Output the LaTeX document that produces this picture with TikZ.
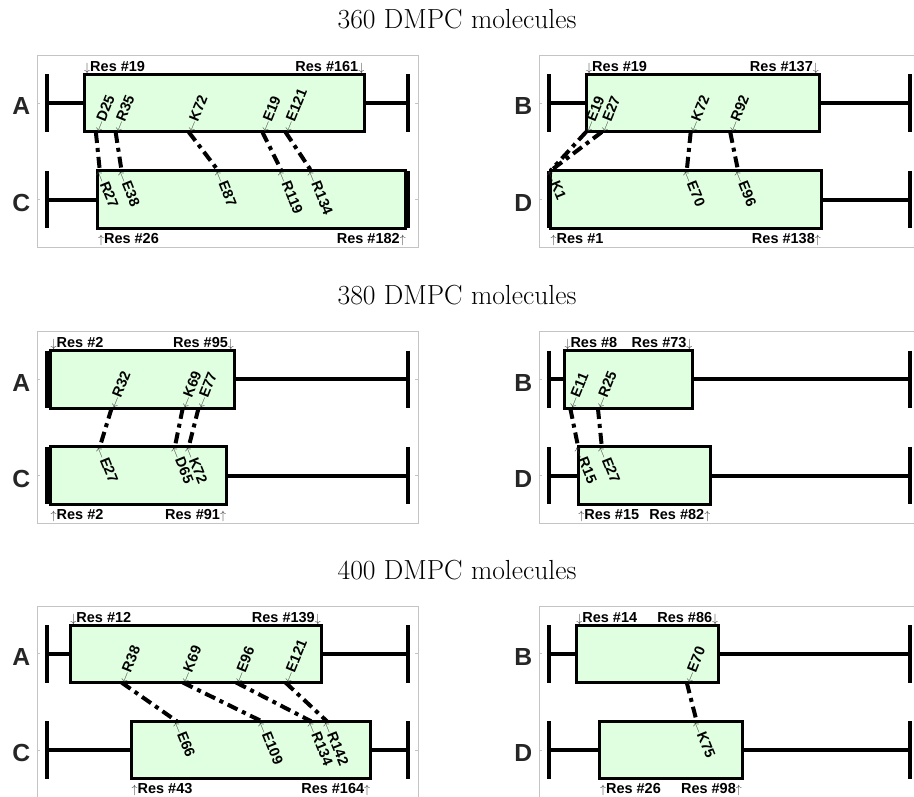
\documentclass[tikz,border=0pt]{standalone}
\usepackage{fontspec}
\setsansfont{Liberation Sans}
\definecolor{boxgreen}{HTML}{E0FFE0}
\definecolor{framegray}{HTML}{C4C4C4}
\definecolor{letgray}{HTML}{262626}
\definecolor{arrowgray}{HTML}{383838}
% thin arrows used inside the labels
\newcommand{\arwd}{{\fontsize{13}{13}\selectfont\textcolor{arrowgray}{$\downarrow$}}}
\newcommand{\arwu}{{\fontsize{13}{13}\selectfont\textcolor{arrowgray}{$\uparrow$}}}
\newcommand{\arwl}{{\fontsize{12}{12}\selectfont\textcolor{arrowgray}{$\leftarrow$}}}

\begin{document}
\begin{tikzpicture}[
  x=1pt,y=-1pt,
  seg/.style={draw=black,fill=boxgreen,line width=3pt},
  whisk/.style={line width=4pt},
  link/.style={line width=4pt,dash pattern=on 11pt off 5pt on 4pt off 5pt},
  panelframe/.style={draw=framegray,line width=0.8pt},
  tickmark/.style={draw=framegray,line width=0.8pt},
  chainlab/.style={font=\sffamily\bfseries\fontsize{24.7}{28}\selectfont,
    text=letgray,anchor=base,inner sep=0pt},
  reslab/.style={font=\sffamily\bfseries\fontsize{14.5}{17}\selectfont,inner sep=0pt},
  lblup/.style={reslab,rotate=68,anchor=west},
  lbldown/.style={reslab,rotate=-68,anchor=west},
  ttl/.style={font=\fontsize{27.6}{32}\selectfont,anchor=base,inner sep=0pt}]
  \useasboundingbox (0,0) rectangle (914,797);
  \clip (0,0) rectangle (914,797);

  \node[ttl] (t360) at (457,28.5) {360 DMPC molecules};
  \node[ttl] (t380) at (457,304.5) {380 DMPC molecules};
  \node[ttl] (t400) at (457,579) {400 DMPC molecules};

  % ---- 360, chains A/C
  \begin{scope}[shift={(46.5pt,0pt)},x=1.975pt]
    \draw[panelframe] (-4.66,55.7) rectangle (188.25,247.3);
    \draw[tickmark] (-4.66,103.25) -- ++(1.5,0) (-4.66,199.55) -- ++(1.5,0)
      (188.25,103.25) -- ++(-1.5,0) (188.25,199.55) -- ++(-1.5,0);
    \node[chainlab] (p1nA) at (-12.8,115) {A};
    \node[chainlab] (p1nC) at (-12.8,211.3) {C};
    \draw[whisk] (0.5,74.5) -- (0.5,132) (0.5,103.25) -- (19,103.25)
      (161,103.25) -- (183.2,103.25) (183.2,74.5) -- (183.2,132);
    \draw[seg] (19,74.5) rectangle (161,132);
    \draw[whisk] (0.5,170.8) -- (0.5,228.3) (0.5,199.55) -- (26,199.55)
      (182,199.55) -- (183.2,199.55) (183.2,170.8) -- (183.2,228.3);
    \draw[seg] (26,170.8) rectangle (182,228.3);
    \node[reslab,anchor=base west] (p1sA) at (19,71.8) {\arwd Res \#19};
    \node[reslab,anchor=base east] (p1eA) at (161,71.8) {Res \#161\arwd};
    \node[reslab,anchor=base west] (p1sC) at (26,243.3) {\arwu Res \#26};
    \node[reslab,anchor=base east] (p1eC) at (182,243.3) {Res \#182\arwu};
    \coordinate (p1a25) at (25,132);    \node[lblup] (p1la25) at (p1a25) {\arwl D25};
    \coordinate (p1a35) at (35,132);    \node[lblup] (p1la35) at (p1a35) {\arwl R35};
    \coordinate (p1a72) at (72,132);    \node[lblup] (p1la72) at (p1a72) {\arwl K72};
    \coordinate (p1a19) at (109.3,132); \node[lblup] (p1la19) at (p1a19) {\arwl E19};
    \coordinate (p1a121) at (121,132);  \node[lblup] (p1la121) at (p1a121) {\arwl E121};
    \coordinate (p1c27) at (27,170.8);   \node[lbldown] (p1lc27) at (p1c27) {\arwl R27};
    \coordinate (p1c38) at (38,170.8);   \node[lbldown] (p1lc38) at (p1c38) {\arwl E38};
    \coordinate (p1c87) at (87,170.8);   \node[lbldown] (p1lc87) at (p1c87) {\arwl E87};
    \coordinate (p1c119) at (119,170.8); \node[lbldown] (p1lc119) at (p1c119) {\arwl R119};
    \coordinate (p1c134) at (134,170.8); \node[lbldown] (p1lc134) at (p1c134) {\arwl R134};
    \draw[link] (p1a25) -- (p1c27);
    \draw[link] (p1a35) -- (p1c38);
    \draw[link] (p1a72) -- (p1c87);
    \draw[link] (p1a19) -- (p1c119);
    \draw[link] (p1a121) -- (p1c134);
  \end{scope}

  % ---- 360, chains B/D
  \begin{scope}[shift={(548.5pt,0pt)},x=1.975pt]
    \draw[panelframe] (-4.66,55.7) rectangle (188.25,247.3);
    \draw[tickmark] (-4.66,103.25) -- ++(1.5,0) (-4.66,199.55) -- ++(1.5,0);
    \node[chainlab] (p2nB) at (-12.8,115) {B};
    \node[chainlab] (p2nD) at (-12.8,211.3) {D};
    \draw[whisk] (0.5,74.5) -- (0.5,132) (0.5,103.25) -- (19,103.25)
      (137,103.25) -- (183.2,103.25) (183.2,74.5) -- (183.2,132);
    \draw[seg] (19,74.5) rectangle (137,132);
    \draw[whisk] (0.5,170.8) -- (0.5,228.3)
      (138,199.55) -- (183.2,199.55) (183.2,170.8) -- (183.2,228.3);
    \draw[seg] (1,170.8) rectangle (138,228.3);
    \node[reslab,anchor=base west] (p2sB) at (19,71.8) {\arwd Res \#19};
    \node[reslab,anchor=base east] (p2eB) at (137,71.8) {Res \#137\arwd};
    \node[reslab,anchor=base west] (p2sD) at (1,243.3) {\arwu Res \#1};
    \node[reslab,anchor=base east] (p2eD) at (138,243.3) {Res \#138\arwu};
    \coordinate (p2b19) at (19,132); \node[lblup] (p2lb19) at (p2b19) {\arwl E19};
    \coordinate (p2b27) at (27,132); \node[lblup] (p2lb27) at (p2b27) {\arwl E27};
    \coordinate (p2b72) at (72,132); \node[lblup] (p2lb72) at (p2b72) {\arwl K72};
    \coordinate (p2b92) at (92,132); \node[lblup] (p2lb92) at (p2b92) {\arwl R92};
    \coordinate (p2d1) at (1,170.8);   \node[lbldown] (p2ld1) at (p2d1) {\arwl K1};
    \coordinate (p2d70) at (70,170.8); \node[lbldown] (p2ld70) at (p2d70) {\arwl E70};
    \coordinate (p2d96) at (96,170.8); \node[lbldown] (p2ld96) at (p2d96) {\arwl E96};
    \draw[link] (p2b19) -- (p2d1);
    \draw[link] (p2b27) -- (p2d1);
    \draw[link] (p2b72) -- (p2d70);
    \draw[link] (p2b92) -- (p2d96);
  \end{scope}

  % ---- 380, chains A/C
  \begin{scope}[shift={(46.5pt,-276pt)},x=1.975pt]
    \draw[panelframe] (-4.66,55.7) rectangle (188.25,247.3);
    \draw[tickmark] (-4.66,103.25) -- ++(1.5,0) (-4.66,199.55) -- ++(1.5,0)
      (188.25,103.25) -- ++(-1.5,0) (188.25,199.55) -- ++(-1.5,0);
    \node[chainlab] (p3nA) at (-12.8,115) {A};
    \node[chainlab] (p3nC) at (-12.8,211.3) {C};
    \draw[whisk] (0.5,74.5) -- (0.5,132)
      (95,103.25) -- (183.2,103.25) (183.2,74.5) -- (183.2,132);
    \draw[seg] (2,74.5) rectangle (95,132);
    \draw[whisk] (0.5,170.8) -- (0.5,228.3)
      (91,199.55) -- (183.2,199.55) (183.2,170.8) -- (183.2,228.3);
    \draw[seg] (2,170.8) rectangle (91,228.3);
    \node[reslab,anchor=base west] (p3sA) at (2,71.8) {\arwd Res \#2};
    \node[reslab,anchor=base east] (p3eA) at (95,71.8) {Res \#95\arwd};
    \node[reslab,anchor=base west] (p3sC) at (2,243.3) {\arwu Res \#2};
    \node[reslab,anchor=base east] (p3eC) at (91,243.3) {Res \#91\arwu};
    \coordinate (p3a32) at (33,132); \node[lblup] (p3la32) at (p3a32) {\arwl R32};
    \coordinate (p3a69) at (69,132); \node[lblup] (p3la69) at (p3a69) {\arwl K69};
    \coordinate (p3a77) at (77,132); \node[lblup] (p3la77) at (p3a77) {\arwl E77};
    \coordinate (p3c27) at (27,170.8); \node[lbldown] (p3lc27) at (p3c27) {\arwl E27};
    \coordinate (p3c65) at (65,170.8); \node[lbldown] (p3lc65) at (p3c65) {\arwl D65};
    \coordinate (p3c72) at (72,170.8); \node[lbldown] (p3lc72) at (p3c72) {\arwl K72};
    \draw[link] (p3a32) -- (p3c27);
    \draw[link] (p3a69) -- (p3c65);
    \draw[link] (p3a77) -- (p3c72);
  \end{scope}

  % ---- 380, chains B/D
  \begin{scope}[shift={(548.5pt,-276pt)},x=1.975pt]
    \draw[panelframe] (-4.66,55.7) rectangle (188.25,247.3);
    \draw[tickmark] (-4.66,103.25) -- ++(1.5,0) (-4.66,199.55) -- ++(1.5,0);
    \node[chainlab] (p4nB) at (-12.8,115) {B};
    \node[chainlab] (p4nD) at (-12.8,211.3) {D};
    \draw[whisk] (0.5,74.5) -- (0.5,132) (0.5,103.25) -- (8,103.25)
      (73,103.25) -- (183.2,103.25) (183.2,74.5) -- (183.2,132);
    \draw[seg] (8,74.5) rectangle (73,132);
    \draw[whisk] (0.5,170.8) -- (0.5,228.3) (0.5,199.55) -- (15,199.55)
      (82,199.55) -- (183.2,199.55) (183.2,170.8) -- (183.2,228.3);
    \draw[seg] (15,170.8) rectangle (82,228.3);
    \node[reslab,anchor=base west] (p4sB) at (8,71.8) {\arwd Res \#8};
    \node[reslab,anchor=base east] (p4eB) at (73,71.8) {Res \#73\arwd};
    \node[reslab,anchor=base west] (p4sD) at (15,243.3) {\arwu Res \#15};
    \node[reslab,anchor=base east] (p4eD) at (82,243.3) {Res \#82\arwu};
    \coordinate (p4b11) at (11,132); \node[lblup] (p4lb11) at (p4b11) {\arwl E11};
    \coordinate (p4b25) at (25,132); \node[lblup] (p4lb25) at (p4b25) {\arwl R25};
    \coordinate (p4d15) at (15,170.8); \node[lbldown] (p4ld15) at (p4d15) {\arwl R15};
    \coordinate (p4d27) at (27,170.8); \node[lbldown] (p4ld27) at (p4d27) {\arwl E27};
    \draw[link] (p4b11) -- (p4d15);
    \draw[link] (p4b25) -- (p4d27);
  \end{scope}

  % ---- 400, chains A/C
  \begin{scope}[shift={(46.5pt,-550.5pt)},x=1.975pt]
    \draw[panelframe] (-4.66,55.7) rectangle (188.25,247.3);
    \draw[tickmark] (-4.66,103.25) -- ++(1.5,0) (-4.66,199.55) -- ++(1.5,0)
      (188.25,103.25) -- ++(-1.5,0) (188.25,199.55) -- ++(-1.5,0);
    \node[chainlab] (p5nA) at (-12.8,115) {A};
    \node[chainlab] (p5nC) at (-12.8,211.3) {C};
    \draw[whisk] (0.5,74.5) -- (0.5,132) (0.5,103.25) -- (12,103.25)
      (139,103.25) -- (183.2,103.25) (183.2,74.5) -- (183.2,132);
    \draw[seg] (12,74.5) rectangle (139,132);
    \draw[whisk] (0.5,170.8) -- (0.5,228.3) (0.5,199.55) -- (43,199.55)
      (164,199.55) -- (183.2,199.55) (183.2,170.8) -- (183.2,228.3);
    \draw[seg] (43,170.8) rectangle (164,228.3);
    \node[reslab,anchor=base west] (p5sA) at (12,71.8) {\arwd Res \#12};
    \node[reslab,anchor=base east] (p5eA) at (139,71.8) {Res \#139\arwd};
    \node[reslab,anchor=base west] (p5sC) at (43,243.3) {\arwu Res \#43};
    \node[reslab,anchor=base east] (p5eC) at (164,243.3) {Res \#164\arwu};
    \coordinate (p5a38) at (38,132);   \node[lblup] (p5la38) at (p5a38) {\arwl R38};
    \coordinate (p5a69) at (69,132);   \node[lblup] (p5la69) at (p5a69) {\arwl K69};
    \coordinate (p5a96) at (96,132);   \node[lblup] (p5la96) at (p5a96) {\arwl E96};
    \coordinate (p5a121) at (121,132); \node[lblup] (p5la121) at (p5a121) {\arwl E121};
    \coordinate (p5c66) at (66,170.8);   \node[lbldown] (p5lc66) at (p5c66) {\arwl E66};
    \coordinate (p5c109) at (109,170.8); \node[lbldown] (p5lc109) at (p5c109) {\arwl E109};
    \coordinate (p5c134) at (134,170.8); \node[lbldown] (p5lc134) at (p5c134) {\arwl R134};
    \coordinate (p5c142) at (142,170.8); \node[lbldown] (p5lc142) at (p5c142) {\arwl R142};
    \draw[link] (p5a38) -- (p5c66);
    \draw[link] (p5a69) -- (p5c109);
    \draw[link] (p5a96) -- (p5c134);
    \draw[link] (p5a121) -- (p5c142);
  \end{scope}

  % ---- 400, chains B/D
  \begin{scope}[shift={(548.5pt,-550.5pt)},x=1.975pt]
    \draw[panelframe] (-4.66,55.7) rectangle (188.25,247.3);
    \draw[tickmark] (-4.66,103.25) -- ++(1.5,0) (-4.66,199.55) -- ++(1.5,0);
    \node[chainlab] (p6nB) at (-12.8,115) {B};
    \node[chainlab] (p6nD) at (-12.8,211.3) {D};
    \draw[whisk] (0.5,74.5) -- (0.5,132) (0.5,103.25) -- (14,103.25)
      (86,103.25) -- (183.2,103.25) (183.2,74.5) -- (183.2,132);
    \draw[seg] (14,74.5) rectangle (86,132);
    \draw[whisk] (0.5,170.8) -- (0.5,228.3) (0.5,199.55) -- (26,199.55)
      (98,199.55) -- (183.2,199.55) (183.2,170.8) -- (183.2,228.3);
    \draw[seg] (26,170.8) rectangle (98,228.3);
    \node[reslab,anchor=base west] (p6sB) at (14,71.8) {\arwd Res \#14};
    \node[reslab,anchor=base east] (p6eB) at (86,71.8) {Res \#86\arwd};
    \node[reslab,anchor=base west] (p6sD) at (26,243.3) {\arwu Res \#26};
    \node[reslab,anchor=base east] (p6eD) at (98,243.3) {Res \#98\arwu};
    \coordinate (p6b70) at (70,132);   \node[lblup] (p6lb70) at (p6b70) {\arwl E70};
    \coordinate (p6d75) at (75,170.8); \node[lbldown] (p6ld75) at (p6d75) {\arwl K75};
    \draw[link] (p6b70) -- (p6d75);
  \end{scope}
\end{tikzpicture}
\end{document}
